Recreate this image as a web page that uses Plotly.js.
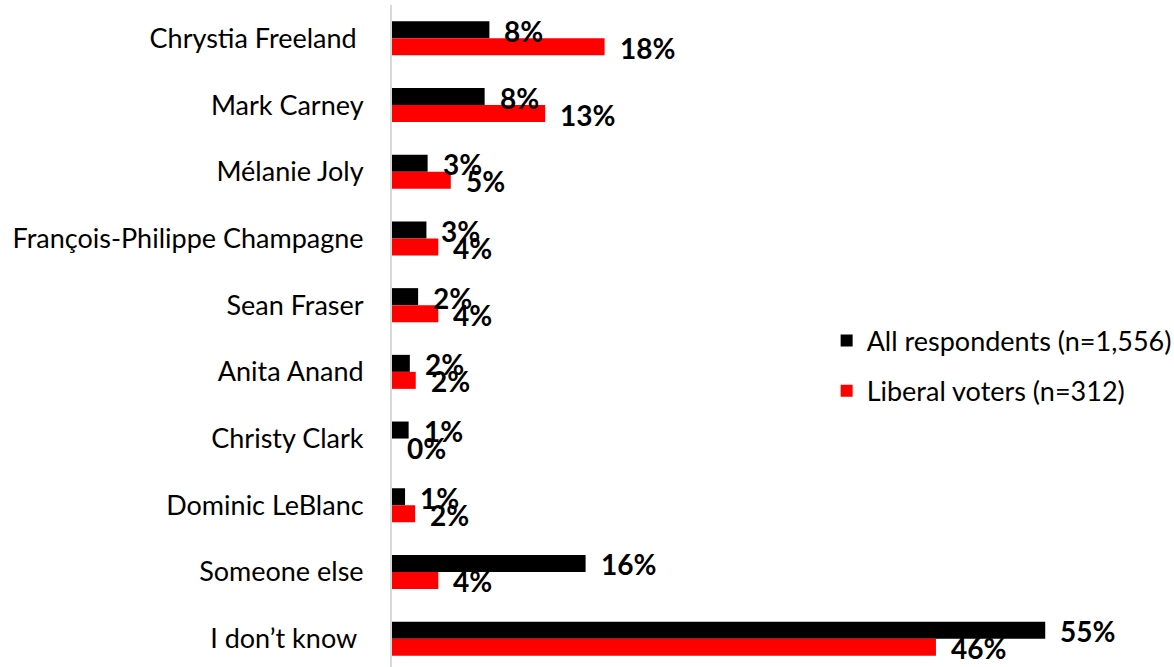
<!DOCTYPE html>
<html>
<head>
<meta charset="utf-8">
<script src="https://cdn.plot.ly/plotly-3.0.1.min.js"></script>
<style>
html, body { margin: 0; padding: 0; overflow: hidden; background: #fff; }
#chart { width: 1174px; height: 672px; }
</style>
</head>
<body>
<div id="chart"></div>
<script>
var categories = ['Chrystia Freeland\u00a0', 'Mark Carney', 'Mélanie Joly', 'François-Philippe Champagne', 'Sean Fraser', 'Anita Anand', 'Christy Clark', 'Dominic LeBlanc', 'Someone else', 'I don’t know\u00a0'];
var allRespondents = [8.2, 7.8, 3.0, 2.9, 2.2, 1.5, 1.4, 1.1, 16.3, 55];
var liberalVoters = [17.9, 12.9, 4.95, 3.9, 3.9, 2.0, 0, 1.95, 3.9, 45.8];
var allLabels = ['8%', '8%', '3%', '3%', '2%', '2%', '1%', '1%', '16%', '55%'];
var liberalLabels = ['18%', '13%', '5%', '4%', '4%', '2%', '0%', '2%', '4%', '46%'];
var seriesNames = ['All respondents (n=1,556)', 'Liberal voters (n=312)'];

var FONT = 'Lato, "Open Sans", sans-serif';
var traces = [
  { type: 'bar', orientation: 'h', name: seriesNames[0], y: categories, x: allRespondents,
    marker: { color: '#000000' }, legendgroup: 'a', hoverinfo: 'skip' },
  { type: 'bar', orientation: 'h', name: seriesNames[1], y: categories, x: liberalVoters,
    marker: { color: '#ff0000' }, legendgroup: 'b', hoverinfo: 'skip' }
];

var annotations = [];
function addLabels(vals, labels, yshift) {
  for (var i = 0; i < vals.length; i++) {
    annotations.push({
      x: vals[i], y: categories[i], xref: 'x', yref: 'y', text: labels[i],
      showarrow: false, xanchor: 'left', yanchor: 'middle', xshift: 13, yshift: yshift,
      font: { family: FONT, size: 28, color: '#000', weight: 'bold' }
    });
  }
}
addLabels(allRespondents, allLabels, 7.5);
addLabels(liberalVoters, liberalLabels, -9.5);

var layout = {
  width: 1174, height: 672,
  margin: { l: 392, r: 10, t: 5, b: 0, autoexpand: false },
  paper_bgcolor: '#fff', plot_bgcolor: '#fff',
  barmode: 'group', bargap: 0.49, bargroupgap: 0,
  showlegend: true,
  legend: { x: 0.563, y: 0.533, xanchor: 'left', yanchor: 'top', traceorder: 'grouped',
            tracegroupgap: 12, font: { family: FONT, size: 27, color: '#000' }, bgcolor: 'rgba(0,0,0,0)' },
  xaxis: { range: [0, 65], showgrid: false, zeroline: false, showticklabels: false, showline: false, fixedrange: true },
  yaxis: { autorange: 'reversed', showgrid: false, zeroline: false, showline: true, linecolor: '#d9d9d9', linewidth: 2,
           ticks: '', ticklabelstandoff: 21, tickfont: { family: FONT, size: 27, color: '#000' }, fixedrange: true },
  annotations: annotations,
  font: { family: FONT }
};

Plotly.newPlot('chart', traces, layout, { displayModeBar: false, staticPlot: true });
</script>
</body>
</html>
